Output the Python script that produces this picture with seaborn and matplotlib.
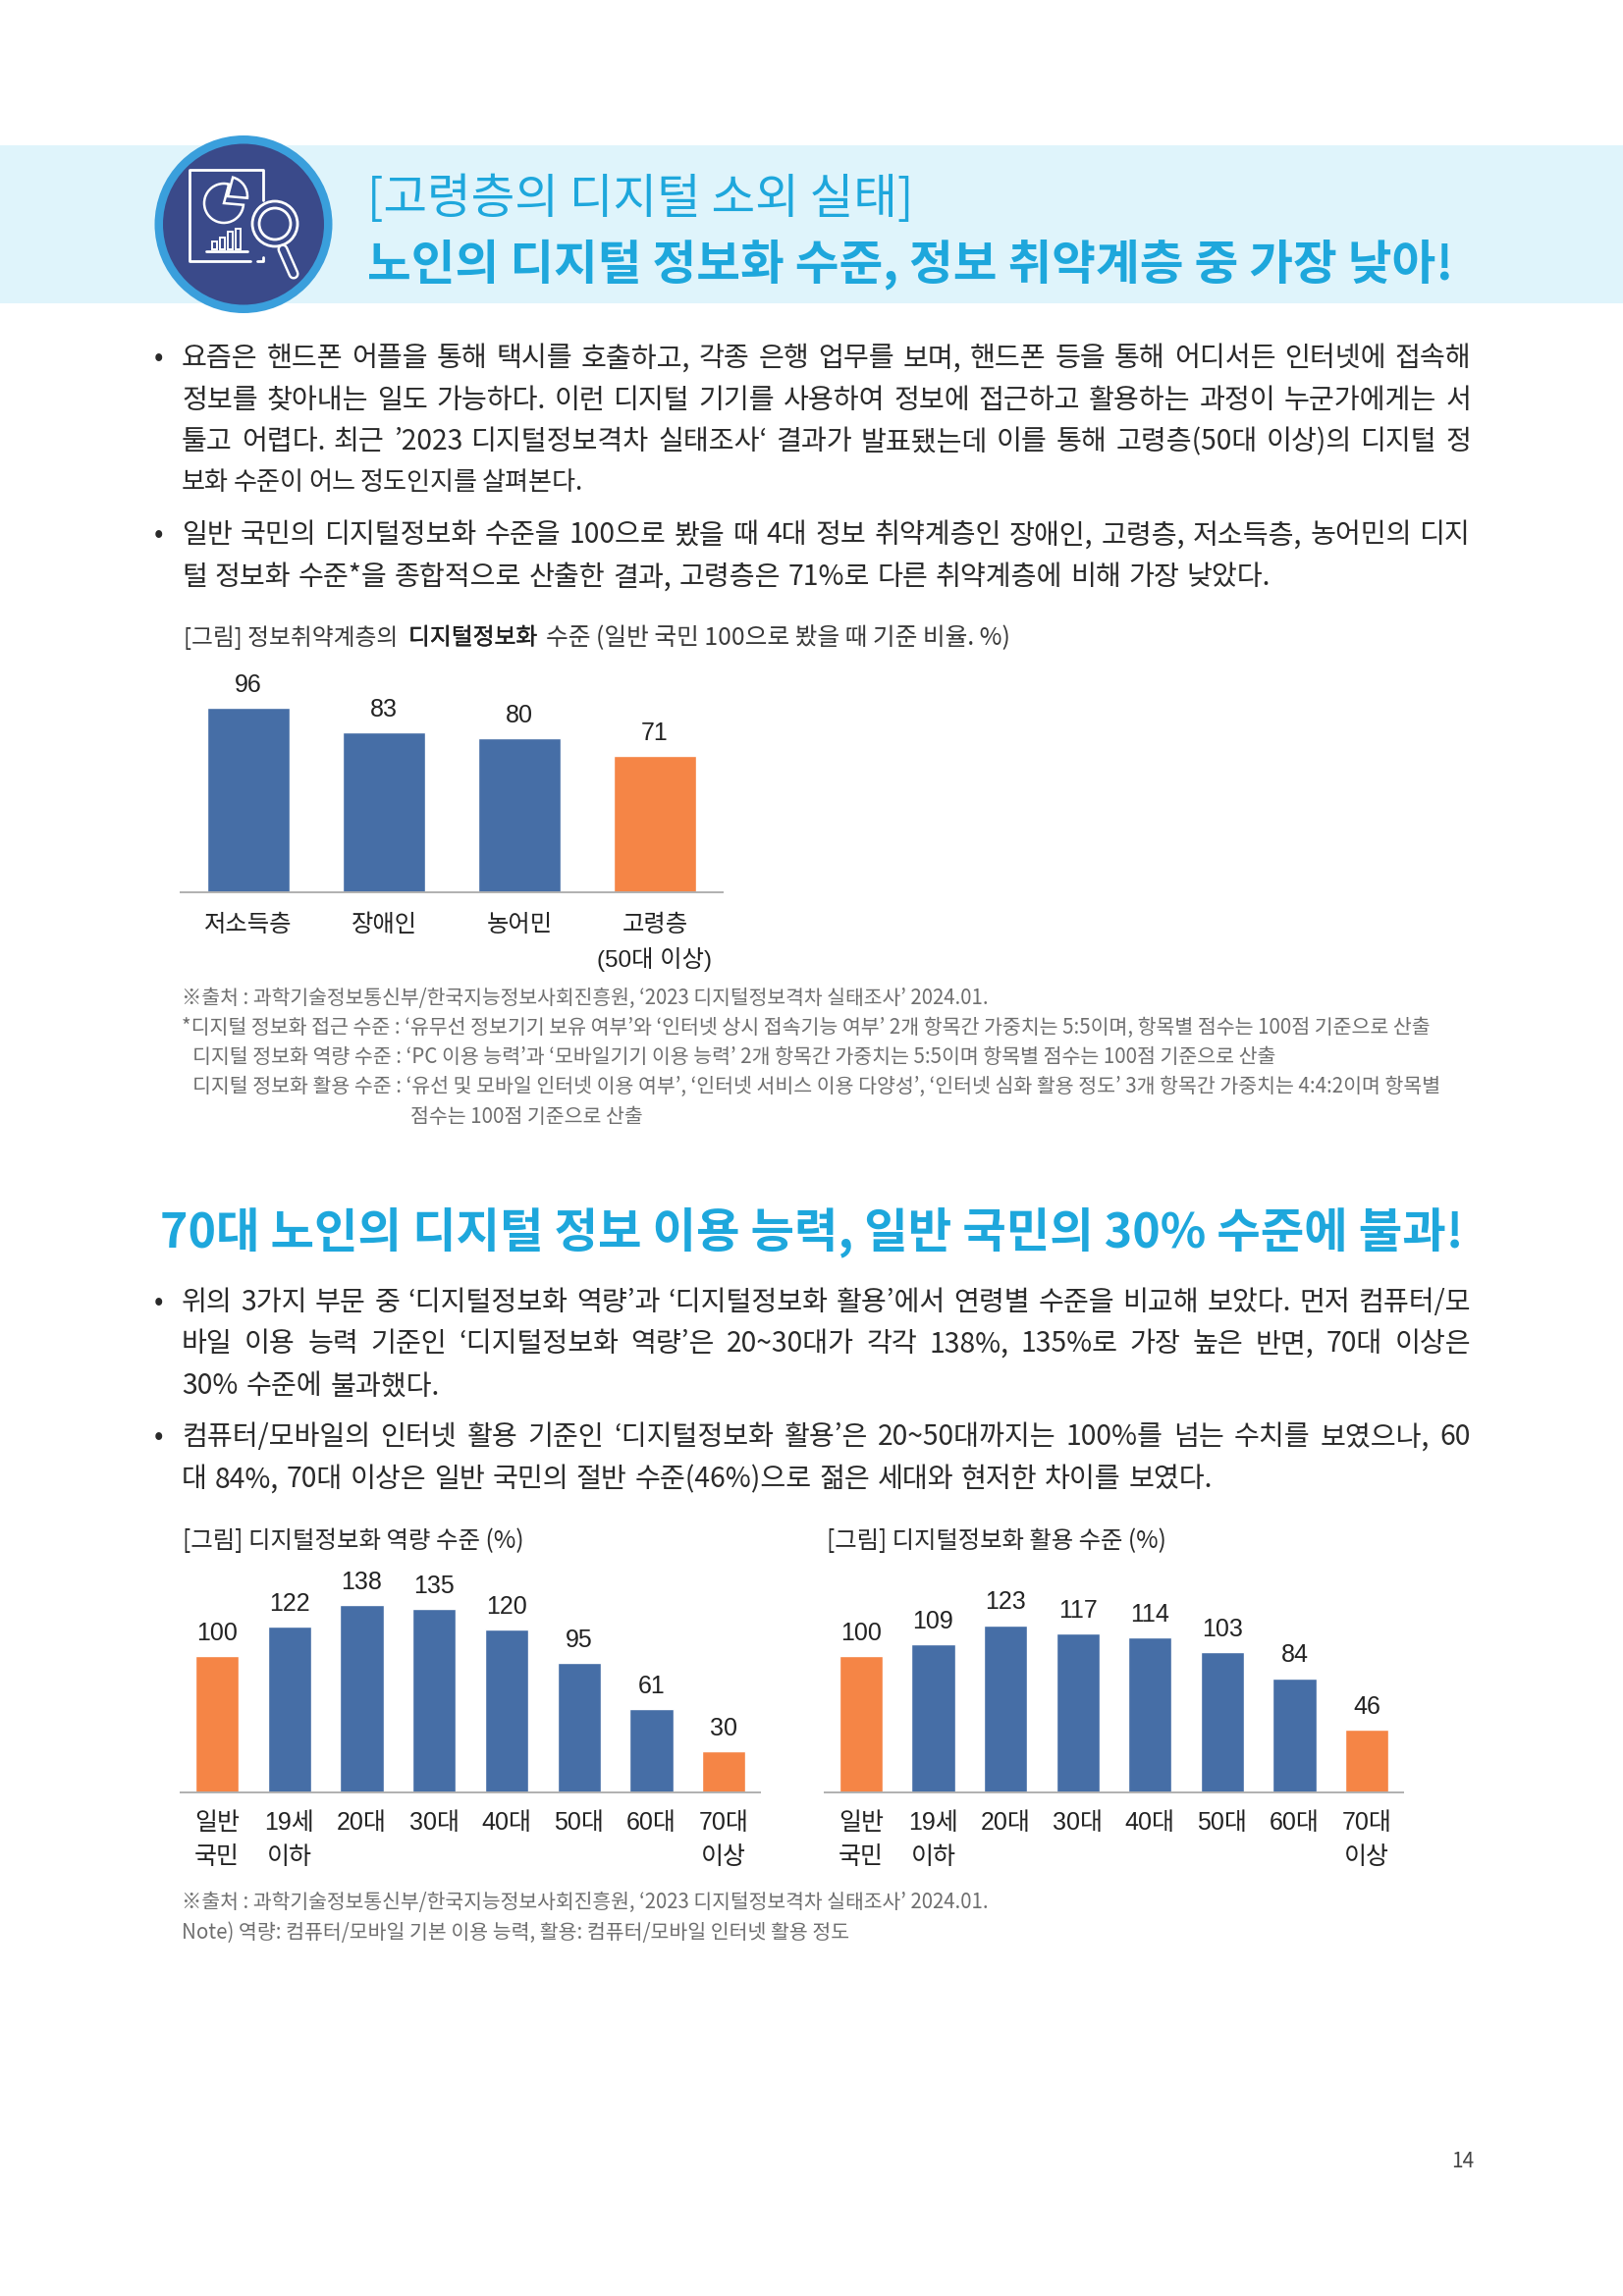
import matplotlib
matplotlib.use("Agg")
import matplotlib.pyplot as plt
import matplotlib.patheffects as pe
from matplotlib.patches import Rectangle, Circle, Wedge
from matplotlib.lines import Line2D
import seaborn as sns
import pandas as pd

# ---------- data ----------
vuln_labels = ["저소득층", "장애인", "농어민", "고령층\n(50대 이상)"]
vuln_values = [96, 83, 80, 71]
vuln_highlight = [False, False, False, True]

age_labels = ["일반\n국민", "19세\n이하", "20대", "30대", "40대", "50대", "60대", "70대\n이상"]
capacity_values = [100, 122, 138, 135, 120, 95, 61, 30]
usage_values = [100, 109, 123, 117, 114, 103, 84, 46]
age_highlight = [True, False, False, False, False, False, False, True]

BLUE = "#466EA6"
ORANGE = "#F58546"
SKY = "#1EA7DC"
BAND = "#DFF4FB"
DARK = "#2A2A2A"
GREY = "#6E6E6E"
NAVY = "#3A4A8A"
KR = "Noto Sans CJK KR"
MIX = ["Liberation Sans", "Noto Sans CJK KR"]

W, H = 1653, 2339
sns.set_theme(style="white")
plt.rcParams["font.family"] = MIX
plt.rcParams["axes.unicode_minus"] = False

fig = plt.figure(figsize=(W / 100, H / 100), dpi=100, facecolor="white")
page = fig.add_axes([0, 0, 1, 1], zorder=0)
page.set_xlim(0, W)
page.set_ylim(H, 0)
page.axis("off")
renderer = fig.canvas.get_renderer()


def width_of(t):
    return t.get_window_extent(renderer).width


def put(x, yc, s, size, color=DARK, weight="normal", ha="left"):
    return page.text(x, yc + 0.36 * size / 0.72, s, fontsize=size, color=color,
                     fontweight=weight, family=KR, ha=ha, va="baseline")


def fit(x0, x1, yc, s, color=DARK, weight="normal"):
    t = put(x0, yc, s, 20, color, weight)
    size = 20 * (x1 - x0) / width_of(t)
    t.remove()
    return put(x0, yc, s, size, color, weight)


def justify(x0, x1, yc, s, size, color=DARK, weight="normal"):
    words = s.split(" ")
    arts = [put(x0, yc, w, size, color, weight) for w in words]
    widths = [width_of(a) for a in arts]
    gap = (x1 - x0 - sum(widths)) / (len(words) - 1)
    x = x0
    for a, w in zip(arts, widths):
        a.set_x(x)
        x += w + gap


# ---------- header band + icon ----------
page.add_patch(Rectangle((0, 148), W, 161, color=BAND, lw=0))
page.add_patch(Circle((248, 228.5), 90.5, color="#3A9FDC", lw=0))
page.add_patch(Circle((248, 228.5), 82, color=NAVY, lw=0))
ink = dict(color="white", lw=2.0, solid_capstyle="round")
page.add_line(Line2D([255, 193, 193, 268, 268], [266, 266, 173, 173, 204], **ink))
page.add_line(Line2D([262, 268, 268], [266, 266, 262], **ink))
page.add_patch(Wedge((228, 207), 20, 5, 285, fill=False, ec="white", lw=1.8))
page.add_patch(Wedge((232, 200), 20, -75, 5, fill=False, ec="white", lw=1.8))
for bx, bt in zip([216, 224, 232, 240], [246, 242, 236, 233]):
    page.add_patch(Rectangle((bx, bt), 5, 254 - bt, fill=False, ec="white", lw=1.4))
page.add_line(Line2D([210, 252], [256, 256], **ink))
page.add_patch(Circle((280, 228), 23, fc=NAVY, ec="white", lw=2))
page.add_patch(Circle((280, 228), 16, fc=NAVY, ec="white", lw=2))
page.add_line(Line2D([288, 299], [254, 279], color="white", lw=8, solid_capstyle="round"))
page.add_line(Line2D([288, 299], [254, 279], color=NAVY, lw=4.5, solid_capstyle="round"))

fit(374, 930, 200, "[고령층의 디지털 소외 실태]", SKY)
fit(374, 1477, 267, "노인의 디지털 정보화 수준, 정보 취약계층 중 가장 낮아!", SKY, "bold")
fit(163, 1488, 1254, "70대 노인의 디지털 정보 이용 능력, 일반 국민의 30% 수준에 불과!", SKY, "bold")

# ---------- body ----------
BODY = 20.3
body_lines = [
    (363, "요즘은 핸드폰 어플을 통해 택시를 호출하고, 각종 은행 업무를 보며, 핸드폰 등을 통해 어디서든 인터넷에 접속해", 1498, BODY),
    (406, "정보를 찾아내는 일도 가능하다. 이런 디지털 기기를 사용하여 정보에 접근하고 활용하는 과정이 누군가에게는 서", 1498, BODY),
    (448, "툴고 어렵다. 최근 ’2023 디지털정보격차 실태조사‘ 결과가 발표됐는데 이를 통해 고령층(50대 이상)의 디지털 정", 1498, BODY),
    (490, "보화 수준이 어느 정도인지를 살펴본다.", 594, 18.8),
    (543, "일반 국민의 디지털정보화 수준을 100으로 봤을 때 4대 정보 취약계층인 장애인, 고령층, 저소득층, 농어민의 디지", 1498, BODY),
    (586, "털 정보화 수준*을 종합적으로 산출한 결과, 고령층은 71%로 다른 취약계층에 비해 가장 낮았다.", 1294, BODY),
    (1325, "위의 3가지 부문 중 ‘디지털정보화 역량’과 ‘디지털정보화 활용’에서 연령별 수준을 비교해 보았다. 먼저 컴퓨터/모", 1498, BODY),
    (1367, "바일 이용 능력 기준인 ‘디지털정보화 역량’은 20~30대가 각각 138%, 135%로 가장 높은 반면, 70대 이상은", 1498, BODY),
    (1410, "30% 수준에 불과했다.", 448, BODY),
    (1462, "컴퓨터/모바일의 인터넷 활용 기준인 ‘디지털정보화 활용’은 20~50대까지는 100%를 넘는 수치를 보였으나, 60", 1498, BODY),
    (1505, "대 84%, 70대 이상은 일반 국민의 절반 수준(46%)으로 젊은 세대와 현저한 차이를 보였다.", 1235, BODY),
]
for y, s, x1, size in body_lines:
    justify(185, x1, y, s, size)
for y in (363, 543, 1325, 1462):
    put(157, y, "•", BODY)

# ---------- chart captions ----------
fit(187, 405, 648, "[그림] 정보취약계층의", "#3A3A3A")
strong = fit(416, 547, 648, "디지털정보화", "#1F1F1F")
strong.set_path_effects([pe.withStroke(linewidth=0.3, foreground="#1F1F1F")])
fit(556, 1029, 648, "수준 (일반 국민 100으로 봤을 때 기준 비율. %)", "#3A3A3A")
fit(186, 533, 1568, "[그림] 디지털정보화 역량 수준 (%)", "#2A2A2A")
fit(842, 1188, 1568, "[그림] 디지털정보화 활용 수준 (%)", "#2A2A2A")

# ---------- notes ----------
notes = [
    (185, 1007, 1016, "※출처 : 과학기술정보통신부/한국지능정보사회진흥원, ‘2023 디지털정보격차 실태조사’ 2024.01."),
    (185, 1458, 1046, "*디지털 정보화 접근 수준 : ‘유무선 정보기기 보유 여부’와 ‘인터넷 상시 접속기능 여부’ 2개 항목간 가중치는 5:5이며, 항목별 점수는 100점 기준으로 산출"),
    (196, 1301, 1076, "디지털 정보화 역량 수준 : ‘PC 이용 능력’과 ‘모바일기기 이용 능력’ 2개 항목간 가중치는 5:5이며 항목별 점수는 100점 기준으로 산출"),
    (196, 1466, 1106, "디지털 정보화 활용 수준 : ‘유선 및 모바일 인터넷 이용 여부’, ‘인터넷 서비스 이용 다양성’, ‘인터넷 심화 활용 정도’ 3개 항목간 가중치는 4:4:2이며 항목별"),
    (418, 655, 1137, "점수는 100점 기준으로 산출"),
    (185, 1007, 1937, "※출처 : 과학기술정보통신부/한국지능정보사회진흥원, ‘2023 디지털정보격차 실태조사’ 2024.01."),
    (185, 864, 1967, "Note) 역량: 컴퓨터/모바일 기본 이용 능력, 활용: 컴퓨터/모바일 인터넷 활용 정도"),
]
for x0, x1, y, s in notes:
    fit(x0, x1, y, s, GREY)
page.text(1490, 2202, "14", fontsize=15, color="#444444", ha="center", va="center", family=KR)


# ---------- charts ----------
def bar_chart(labels, values, highlight, left, right, base, top, ymax, tick_pad, tick_size, bar_width):
    ax = fig.add_axes([left / W, 1 - base / H, (right - left) / W, (base - top) / H],
                      zorder=2, facecolor="none")
    df = pd.DataFrame({"label": labels, "value": values})
    colors = [ORANGE if h else BLUE for h in highlight]
    sns.barplot(data=df, x="label", y="value", hue="label", palette=colors,
                dodge=False, legend=False, width=bar_width, saturation=1, ax=ax)
    for c in ax.containers:
        ax.bar_label(c, fontsize=18, color="#222222", padding=8)
    ax.set_xlim(-0.5, len(labels) - 0.5)
    ax.set_ylim(0, ymax)
    ax.set_xlabel("")
    ax.set_ylabel("")
    ax.set_yticks([])
    ax.tick_params(axis="x", length=0, pad=tick_pad, labelsize=tick_size, labelcolor="#222222")
    for lab in ax.get_xticklabels():
        lab.set_linespacing(1.55)
    sns.despine(ax=ax, left=True)
    ax.spines["bottom"].set_color("#B0B0B0")
    ax.spines["bottom"].set_linewidth(1.4)
    return ax


bar_chart(vuln_labels, vuln_values, vuln_highlight, 184, 736, 909, 713, 100, 16.5, 17.5, 0.605)
bar_chart(age_labels, capacity_values, age_highlight, 184, 774, 1826, 1632, 140, 14, 18, 0.6)
bar_chart(age_labels, usage_values, age_highlight, 840, 1429, 1826, 1632, 140, 14, 18, 0.6)

fig.savefig("out.png", dpi=100)
